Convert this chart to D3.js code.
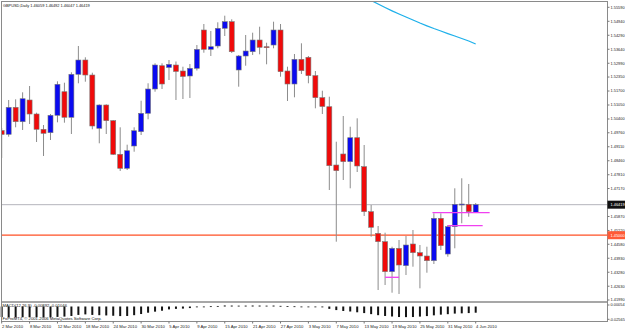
<!DOCTYPE html>
<html><head><meta charset="utf-8">
<script src="https://cdn.jsdelivr.net/npm/d3@7"></script>
<style>html,body{margin:0;padding:0;background:#fff;overflow:hidden}svg{display:block}text{font-family:"Liberation Sans",Arial,sans-serif}</style>
</head><body>
<script>
const dates = ["2010-03-02","2010-03-03","2010-03-04","2010-03-05","2010-03-08","2010-03-09","2010-03-10","2010-03-11","2010-03-12","2010-03-15","2010-03-16","2010-03-17","2010-03-18","2010-03-19","2010-03-22","2010-03-23","2010-03-24","2010-03-25","2010-03-26","2010-03-29","2010-03-30","2010-03-31","2010-04-01","2010-04-02","2010-04-05","2010-04-06","2010-04-07","2010-04-08","2010-04-09","2010-04-12","2010-04-13","2010-04-14","2010-04-15","2010-04-16","2010-04-19","2010-04-20","2010-04-21","2010-04-22","2010-04-23","2010-04-26","2010-04-27","2010-04-28","2010-04-29","2010-04-30","2010-05-03","2010-05-04","2010-05-05","2010-05-06","2010-05-07","2010-05-10","2010-05-11","2010-05-12","2010-05-13","2010-05-14","2010-05-17","2010-05-18","2010-05-19","2010-05-20","2010-05-21","2010-05-24","2010-05-25","2010-05-26","2010-05-27","2010-05-28","2010-05-31","2010-06-01","2010-06-02","2010-06-03","2010-06-04"];
const openP = [1.49865,1.49689,1.50943,1.50274,1.51283,1.50632,1.49921,1.49763,1.50572,1.51668,1.50479,1.52477,1.53141,1.52444,1.49968,1.51050,1.50321,1.48760,1.48109,1.49145,1.49810,1.50665,1.51794,1.52876,1.52793,1.52909,1.52630,1.52398,1.52756,1.54535,1.53638,1.53792,1.54614,1.54921,1.52677,1.53327,1.53527,1.54070,1.53759,1.53838,1.54535,1.52630,1.52026,1.53174,1.53267,1.52412,1.51390,1.50971,1.48262,1.48774,1.48416,1.49531,1.48184,1.46093,1.45089,1.44699,1.43305,1.44392,1.43584,1.44592,1.44188,1.44034,1.43816,1.45786,1.44127,1.45396,1.46436,1.46436,1.46059];
const highP = [1.49982,1.51283,1.51315,1.51640,1.51933,1.50693,1.50121,1.50632,1.52151,1.52086,1.52570,1.53792,1.53267,1.52551,1.51080,1.51083,1.50353,1.50014,1.49206,1.50014,1.51250,1.52059,1.52988,1.52988,1.53141,1.53072,1.52830,1.52955,1.53838,1.54814,1.54489,1.54893,1.55200,1.55032,1.53374,1.54303,1.54410,1.54688,1.53945,1.54921,1.54814,1.52830,1.53420,1.53917,1.53327,1.52630,1.51715,1.51436,1.49345,1.50539,1.50042,1.50432,1.49192,1.46404,1.45428,1.45117,1.44466,1.44778,1.44964,1.45242,1.44545,1.44466,1.46018,1.46018,1.45475,1.47180,1.47645,1.47380,1.46492];
const lowP = [1.48588,1.49577,1.50014,1.49889,1.50168,1.49331,1.48681,1.49424,1.50246,1.50228,1.49703,1.52059,1.52133,1.49921,1.49271,1.49703,1.48727,1.47984,1.48030,1.48880,1.49656,1.50386,1.51668,1.51794,1.52212,1.51283,1.51329,1.51376,1.52653,1.53480,1.53327,1.53685,1.54256,1.53466,1.51901,1.52876,1.53374,1.53406,1.52941,1.53685,1.52365,1.51236,1.51408,1.52491,1.52059,1.50897,1.50632,1.47101,1.44699,1.47566,1.47180,1.47937,1.45893,1.44931,1.42454,1.42687,1.42329,1.42269,1.43151,1.43537,1.42533,1.43258,1.43663,1.44313,1.44002,1.44392,1.45554,1.45860,1.46047];
const closeP = [1.49680,1.50943,1.50274,1.51343,1.50632,1.49921,1.49735,1.50572,1.52012,1.50479,1.52477,1.53141,1.52444,1.50075,1.51050,1.50321,1.48760,1.48109,1.48927,1.49856,1.50665,1.51794,1.52909,1.52026,1.52941,1.52607,1.52375,1.52756,1.53638,1.53638,1.53759,1.54614,1.54921,1.53527,1.53327,1.53559,1.54070,1.53731,1.53722,1.54535,1.52598,1.52026,1.53174,1.52644,1.52412,1.51390,1.50981,1.48230,1.47998,1.48416,1.49531,1.48216,1.46093,1.45368,1.44699,1.43305,1.44392,1.43616,1.44545,1.44188,1.44034,1.43816,1.45786,1.44513,1.45396,1.46436,1.46450,1.46093,1.46419];
const macdVals = [-0.0200,-0.0205,-0.0208,-0.0205,-0.0200,-0.0203,-0.0208,-0.0206,-0.0198,-0.0192,-0.0180,-0.0160,-0.0150,-0.0160,-0.0165,-0.0170,-0.0176,-0.0182,-0.0180,-0.0165,-0.0143,-0.0118,-0.0098,-0.0080,-0.0055,-0.0045,-0.0040,-0.0030,-0.0015,-0.0005,0.0005,0.0010,0.0020,0.0018,0.0016,0.0017,0.0019,0.0018,0.0016,0.0018,0.0012,0.0006,0.0004,-0.0003,-0.0006,-0.0010,-0.0016,-0.0045,-0.0068,-0.0085,-0.0095,-0.0110,-0.0125,-0.0145,-0.0165,-0.0180,-0.0190,-0.0200,-0.0202,-0.0200,-0.0192,-0.0182,-0.0168,-0.0155,-0.0146,-0.0135,-0.0130,-0.0125,-0.0118];
const maStart = 52;
const maVals = [1.56068,1.55906,1.55743,1.55581,1.55427,1.55279,1.55139,1.55000,1.54860,1.54730,1.54605,1.54489,1.54372,1.54256,1.54140,1.54024,1.53885];
const priceTickLabels = ["1.55590","1.54940","1.54290","1.53640","1.52990","1.52350","1.51700","1.51050","1.50400","1.49760","1.49110","1.48460","1.47810","1.47170","1.46520","1.45870","1.45220","1.44580","1.43930","1.43280","1.42630","1.41990"];
const dateTickLabels = ["2 Mar 2010","8 Mar 2010","12 Mar 2010","18 Mar 2010","24 Mar 2010","30 Mar 2010","5 Apr 2010","9 Apr 2010","15 Apr 2010","21 Apr 2010","27 Apr 2010","3 May 2010","7 May 2010","13 May 2010","19 May 2010","25 May 2010","31 May 2010","4 Jun 2010"];
const dateTickIdx = [0,4,8,12,16,20,24,28,32,36,40,44,48,52,56,60,64,68];
const hLines = [{price:1.43045,from:55,to:57},{price:1.46046,from:61.8,to:70},{price:1.45442,from:64,to:69}];
const bidPrice = 1.46419, alertPrice = 1.45000;
const headerText = "GBPUSD,Daily  1.46059 1.46492 1.46047 1.46419";
const macdText = "MACD(12,26,9) -0.00892 -0.01046";
const copyText = "FxProMT4, \u00a9 2001-2006 MetaQuotes Software Corp.";
const macdAxis = ["0.00054","-0.02565"];

const W=625,H=330, L=1.5, R=607.5, T=1.5, SEP=302, B=321.5;
const svg = d3.select("body").append("svg").attr("width",W).attr("height",H);
const x = d3.scaleLinear().domain([0,68]).range([1.7,475.7]);
const y = d3.scaleLinear().domain([1.41990,1.55590]).range([300,7.3]);
const ym = d3.scaleLinear().domain([-0.02565,0]).range([320,306.5]);

svg.append("clipPath").attr("id","cm").append("rect").attr("x",L).attr("y",T).attr("width",R-L).attr("height",SEP-T);
const g = svg.append("g").attr("clip-path","url(#cm)");

g.append("line").attr("x1",L).attr("x2",R).attr("y1",y(bidPrice)).attr("y2",y(bidPrice)).attr("stroke","#b4b4bc").attr("stroke-width",1);
g.append("line").attr("x1",L).attr("x2",R).attr("y1",y(alertPrice)).attr("y2",y(alertPrice)).attr("stroke","#ffa890").attr("stroke-width",1.8);
g.append("line").attr("x1",L).attr("x2",R).attr("y1",y(alertPrice)).attr("y2",y(alertPrice)).attr("stroke","#ff5a36").attr("stroke-width",0.8);

const maData = maVals.map((v,k)=>({i:maStart+k,v}));
g.append("path").datum(maData).attr("fill","none").attr("stroke","#1eb0ea").attr("stroke-width",1.3)
  .attr("d",d3.line().x(d=>x(d.i)).y(d=>y(d.v)));

const idx = d3.range(dates.length);
g.selectAll(".wick").data(idx).join("line").attr("class","wick")
  .attr("x1",i=>x(i)).attr("x2",i=>x(i)).attr("y1",i=>y(highP[i])).attr("y2",i=>y(lowP[i]))
  .attr("stroke","#8c8c8c").attr("stroke-width",1);
g.selectAll(".body").data(idx).join("rect").attr("class","body")
  .attr("x",i=>x(i)-2.5).attr("width",5)
  .attr("y",i=>y(Math.max(openP[i],closeP[i])))
  .attr("height",i=>Math.max(1,Math.abs(y(openP[i])-y(closeP[i]))))
  .attr("fill",i=>closeP[i]>=openP[i]?"#0a0af0":"#f00a0a")
  .attr("stroke","#7a7a7a").attr("stroke-width",0.6);

g.selectAll(".hl").data(hLines).join("line").attr("class","hl")
  .attr("x1",d=>x(d.from)).attr("x2",d=>x(d.to)).attr("y1",d=>y(d.price)).attr("y2",d=>y(d.price))
  .attr("stroke","#f040f0").attr("stroke-width",1.3);

svg.append("g").selectAll("rect").data(idx).join("rect")
  .attr("x",i=>x(i)-1).attr("width",2)
  .attr("y",i=>Math.min(ym(macdVals[i]),ym(0)))
  .attr("height",i=>Math.max(0.8,Math.abs(ym(macdVals[i])-ym(0))))
  .attr("fill","#141414");

const fc="#8a8a8a";
svg.append("rect").attr("x",L).attr("y",T).attr("width",R-L).attr("height",B-T).attr("fill","none").attr("stroke",fc).attr("stroke-width",1);
svg.append("line").attr("x1",L).attr("x2",R).attr("y1",SEP).attr("y2",SEP).attr("stroke",fc).attr("stroke-width",1.3);

const FS=3.9, LX=R+3;
const pa = svg.append("g");
priceTickLabels.forEach(s=>{
  const v=+s, yy=y(v);
  pa.append("line").attr("x1",R).attr("x2",R+2).attr("y1",yy).attr("y2",yy).attr("stroke","#777");
  if (Math.abs(yy-y(bidPrice))<5) return; // hidden under the bid box in the reference
  pa.append("text").attr("x",LX).attr("y",yy).attr("dy","0.35em").attr("font-size",FS).attr("fill","#222").text(s);
});
function box(v,bg,txt){
  const yy=y(v);
  pa.append("rect").attr("x",R).attr("y",yy-4).attr("width",W-R).attr("height",8).attr("fill",bg);
  pa.append("text").attr("x",LX).attr("y",yy).attr("dy","0.35em").attr("font-size",FS).attr("fill","#fff").text(txt);
}
box(bidPrice,"#111",bidPrice.toFixed(5));
box(alertPrice,"#ff5a36",alertPrice.toFixed(5));
pa.append("text").attr("x",LX).attr("y",305).attr("dy","0.35em").attr("font-size",FS).attr("fill","#222").text(macdAxis[0]);
pa.append("text").attr("x",LX-1).attr("y",319.3).attr("dy","0.35em").attr("font-size",FS).attr("fill","#222").text(macdAxis[1]);
pa.append("line").attr("x1",R).attr("x2",R+2).attr("y1",305).attr("y2",305).attr("stroke","#777");
pa.append("line").attr("x1",R).attr("x2",R+2).attr("y1",319.3).attr("y2",319.3).attr("stroke","#777");

const da = svg.append("g");
dateTickLabels.forEach((s,k)=>{
  const xx=x(dateTickIdx[k]);
  da.append("line").attr("x1",xx).attr("x2",xx).attr("y1",B).attr("y2",B+2).attr("stroke","#777");
  da.append("text").attr("x",xx+0.3).attr("y",326.5).attr("dy","0.35em").attr("font-size",4.2).attr("fill","#222").text(s);
});

svg.append("text").attr("x",3).attr("y",6).attr("dy","0.35em").attr("font-size",3.9).attr("fill","#111").text(headerText);
svg.append("text").attr("x",2.5).attr("y",305.5).attr("dy","0.35em").attr("font-size",4.2).attr("fill","#111").text(macdText);
svg.append("text").attr("x",2.5).attr("y",318.5).attr("dy","0.35em").attr("font-size",4.2).attr("fill","#111").text(copyText);
</script>
</body></html>
